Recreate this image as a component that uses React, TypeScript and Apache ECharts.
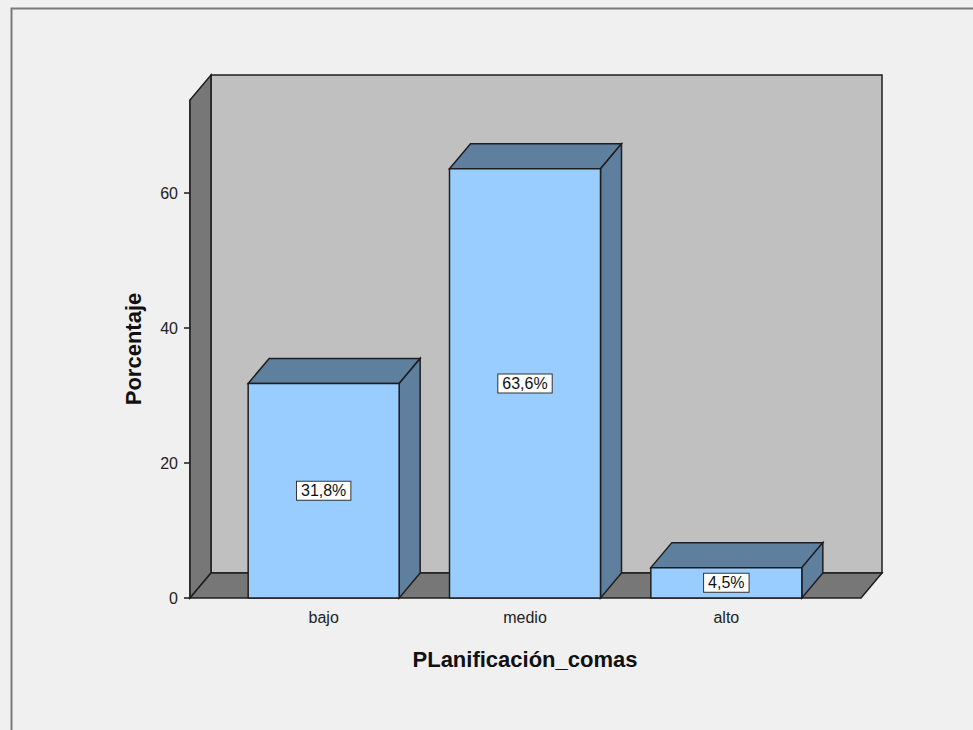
import { useEffect, useRef } from "react";
import * as echarts from "echarts";

// Frequency table: PLanificación_comas
const categories = ["bajo", "medio", "alto"];
const percentages = [31.8, 63.6, 4.5];
const yTicks = [0, 20, 40, 60];
const yMax = 73.8;

// 3D depth offset used for walls and bar faces
const DEPTH_X = 21;
const DEPTH_Y = -25;

const FONT = "Arial, 'Liberation Sans', sans-serif";
const EDGE = "#1e1e1e";

export default function App() {
  const ref = useRef<HTMLDivElement>(null);

  useEffect(() => {
    const chart = echarts.init(ref.current!, null, { renderer: "svg" });

    const backdrop = {
      type: "custom",
      silent: true,
      clip: false,
      z: 1,
      data: [[0, 0]],
      renderItem: (params: any) => {
        const cs = params.coordSys;
        const l = cs.x - 33;
        const r = cs.x + cs.width + 34;
        const t = cs.y;
        const b = cs.y + cs.height;
        const line = { stroke: EDGE, lineWidth: 1.5 };
        return {
          type: "group",
          children: [
            {
              type: "rect",
              shape: { x: l + DEPTH_X, y: t + DEPTH_Y, width: r - l, height: b - t },
              style: { fill: "#C0C0C0", ...line },
            },
            {
              type: "polygon",
              shape: {
                points: [
                  [l, t],
                  [l + DEPTH_X, t + DEPTH_Y],
                  [l + DEPTH_X, b + DEPTH_Y],
                  [l, b],
                ],
              },
              style: { fill: "#777777", ...line },
            },
            {
              type: "polygon",
              shape: {
                points: [
                  [l, b],
                  [l + DEPTH_X, b + DEPTH_Y],
                  [r + DEPTH_X, b + DEPTH_Y],
                  [r, b],
                ],
              },
              style: { fill: "#777777", ...line },
            },
          ],
        };
      },
    };

    const bars = {
      type: "custom",
      z: 3,
      clip: false,
      data: percentages.map((v, i) => [i, v]),
      encode: { x: 0, y: 1 },
      renderItem: (_params: any, api: any) => {
        const idx = api.value(0);
        const v = api.value(1);
        const [cx, yTop] = api.coord([idx, v]);
        const yBase = api.coord([idx, 0])[1];
        const hw = api.size([1, 0])[0] * 0.375;
        const l = cx - hw;
        const r = cx + hw;
        const line = { stroke: EDGE, lineWidth: 1.5 };
        const label = v.toFixed(1).replace(".", ",") + "%";
        return {
          type: "group",
          children: [
            {
              type: "polygon",
              shape: {
                points: [
                  [l, yTop],
                  [l + DEPTH_X, yTop + DEPTH_Y],
                  [r + DEPTH_X, yTop + DEPTH_Y],
                  [r, yTop],
                ],
              },
              style: { fill: "#5F7F9F", ...line },
            },
            {
              type: "polygon",
              shape: {
                points: [
                  [r, yTop],
                  [r + DEPTH_X, yTop + DEPTH_Y],
                  [r + DEPTH_X, yBase + DEPTH_Y],
                  [r, yBase],
                ],
              },
              style: { fill: "#5F7F9F", ...line },
            },
            {
              type: "rect",
              shape: { x: l, y: yTop, width: r - l, height: yBase - yTop },
              style: { fill: "#99CCFF", ...line },
            },
            {
              type: "text",
              z2: 10,
              x: cx,
              y: (yTop + yBase) / 2,
              style: {
                text: label,
                align: "center",
                verticalAlign: "middle",
                fontFamily: FONT,
                fontSize: 16,
                lineHeight: 16,
                fill: "#111",
                backgroundColor: "#ffffff",
                borderColor: "#333333",
                borderWidth: 1,
                padding: [1, 4],
              },
            },
          ],
        };
      },
    };

    chart.setOption({
      animation: false,
      backgroundColor: "#F0F0F0",
      textStyle: { fontFamily: FONT },
      grid: { left: 223, right: 146, top: 100, bottom: 132 },
      graphic: [
        {
          type: "rect",
          left: 9,
          top: 6,
          shape: { width: 1000, height: 800 },
          style: { fill: "none", stroke: "#7a7a7a", lineWidth: 2 },
          silent: true,
        },
      ],
      xAxis: {
        type: "category",
        data: categories,
        axisLine: { show: false },
        axisTick: {
          alignWithLabel: true,
          length: 8,
          lineStyle: { color: EDGE, width: 1.5 },
        },
        axisLabel: { color: "#222", fontSize: 16, margin: 11 },
        name: "PLanificación_comas",
        nameLocation: "middle",
        nameGap: 50,
        nameTextStyle: { fontSize: 22, fontWeight: "bold", color: "#111" },
      },
      yAxis: {
        type: "value",
        min: 0,
        max: yMax,
        offset: 33,
        axisLine: { show: true, lineStyle: { color: EDGE, width: 1.5 } },
        axisTick: {
          show: true,
          length: 6,
          customValues: yTicks,
          lineStyle: { color: EDGE, width: 1.5 },
        },
        axisLabel: { customValues: yTicks, fontSize: 16, color: "#222", margin: 12 },
        splitLine: { show: false },
        name: "Porcentaje",
        nameLocation: "middle",
        nameGap: 46,
        nameRotate: 90,
        nameTextStyle: { fontSize: 22, fontWeight: "bold", color: "#111" },
      },
      series: [backdrop, bars],
    });

    return () => chart.dispose();
  }, []);

  return (
    <div
      ref={ref}
      style={{ position: "absolute", left: 0, top: 0, width: 973, height: 730 }}
    />
  );
}
